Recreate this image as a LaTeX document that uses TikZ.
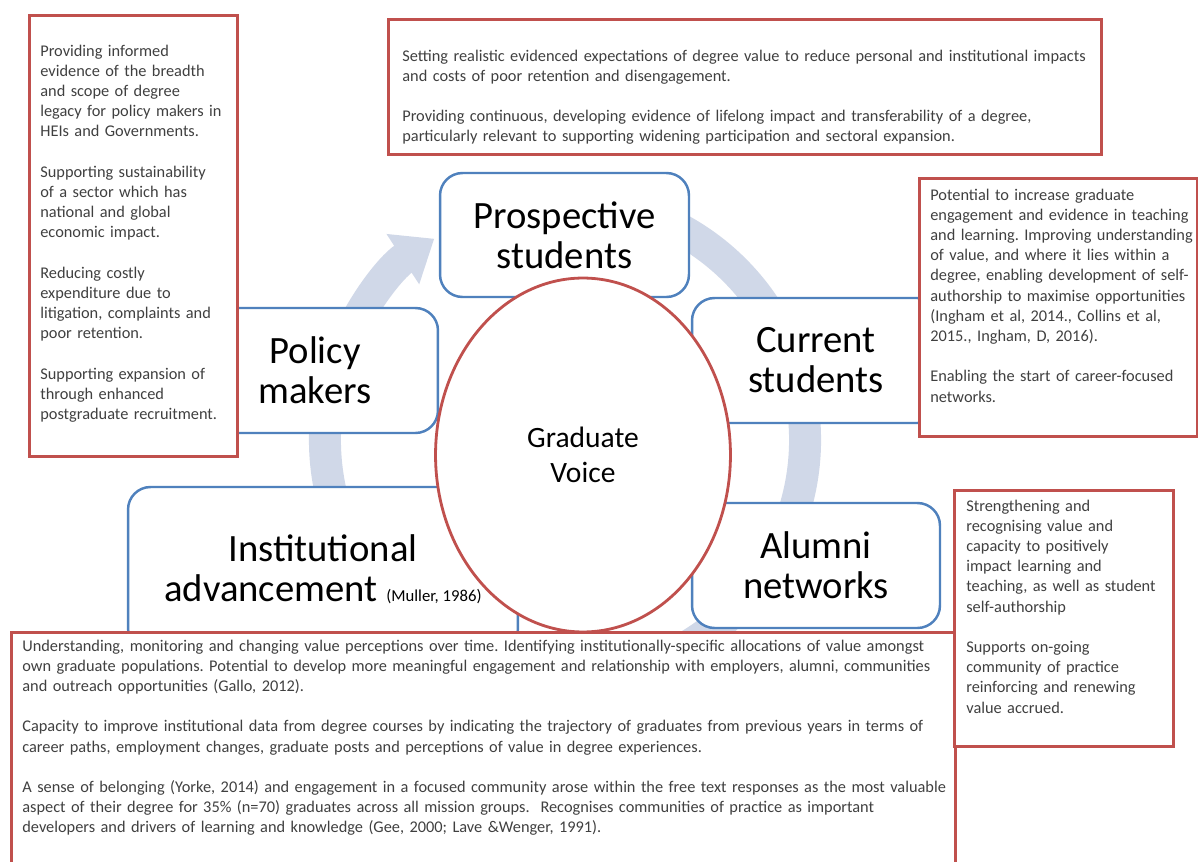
\documentclass[tikz,border=0pt]{standalone}
\usepackage{fontspec}
\setmainfont{Carlito}
\frenchspacing
\usetikzlibrary{shapes.geometric,arrows.meta}

\definecolor{stageblue}{RGB}{79,129,189}
\definecolor{notered}{RGB}{192,80,77}
\definecolor{ringgray}{RGB}{208,216,232}
\definecolor{notegray}{RGB}{64,64,64}

\tikzset{
  stage/.style={draw=stageblue, line width=1.4pt, rounded corners=0.45cm, fill=white,
    align=center, font=\fontsize{22}{22.7}\selectfont},
  note/.style={draw=notered, line width=1.6pt, fill=white, anchor=north west},
  notetext/.style={anchor=base west, inner sep=0pt, align=left, text=notegray,
    font=\fontsize{9.3}{11.5}\selectfont},
  ring/.style={draw=ringgray, line width=0.64cm, -{Triangle[width=1.15cm,length=0.75cm]}},
}

\begin{document}
\begin{tikzpicture}[x=0.02cm, y=-0.02cm]

% Marco
\useasboundingbox (0,0) rectangle (1198,862);
\fill[white] (0,0) rectangle (1198,862);
\clip (0,0) rectangle (1198,862);

% Anillo
\coordinate (ringc) at (565,440);
\draw[ring] (ringc) ++(-70:240) arc[start angle=-70, end angle=237, radius=240];

% Etapas
\node[stage, minimum width=4.98cm, minimum height=2.48cm] (prospect) at (564.5,235) {Prospective\\students};
\node[stage, minimum width=4.92cm, minimum height=2.5cm] (policy) at (315,370.5) {Policy\\makers};
\node[stage, minimum width=4.96cm, minimum height=2.5cm] (current) at (816,360.5) {Current\\students};
\node[stage, minimum width=4.96cm, minimum height=2.5cm] (alumni) at (816,565.5) {Alumni\\networks};
\node[stage, minimum width=7.8cm, minimum height=3.28cm] (institute) at (323,569)
  {Institutional\\advancement {\fontsize{9.5}{11}\selectfont (Muller, 1986)}};

% Voz del graduado
\node[ellipse, draw=notered, line width=1.6pt, fill=white, inner sep=0pt,
  minimum width=5.9cm, minimum height=7.08cm, align=center,
  font=\fontsize{16.8}{19.8}\selectfont] (voice) at (583,455) {Graduate\\Voice};

% Notas
\node[note, minimum width=4.16cm, minimum height=8.82cm] (policynote) at (28,14) {};
\node[notetext, text width=5cm] (policytext) at (40,56)
  {Providing informed\\evidence of the breadth\\and scope of degree\\legacy for policy makers in\\HEIs and Governments.\\[\baselineskip]
   Supporting sustainability\\of a sector which has\\national and global\\economic impact.\\[\baselineskip]
   Reducing costly\\expenditure due to\\litigation, complaints and\\poor retention.\\[\baselineskip]
   Supporting expansion of\\through enhanced\\postgraduate recruitment.};

\node[note, minimum width=14.26cm, minimum height=2.7cm] (prospectnote) at (387,18) {};
\node[notetext, text width=15cm] (prospecttext) at (402,61)
  {Setting realistic evidenced expectations of degree value to reduce personal and institutional impacts\\
   and costs of poor retention and disengagement.\\[\baselineskip]
   Providing continuous, developing evidence of lifelong impact and transferability of a degree,\\
   particularly relevant to supporting widening participation and sectoral expansion.};

\node[note, minimum width=5.56cm, minimum height=5.16cm] (currentnote) at (918,177) {};
\node[notetext, text width=6cm] (currenttext) at (930,200)
  {Potential to increase graduate\\engagement and evidence in teaching\\and learning. Improving understanding\\of value, and where it lies within a\\degree, enabling development of self-\\authorship to maximise opportunities\\(Ingham et al, 2014., Collins et al,\\2015., Ingham, D, 2016).\\[\baselineskip]
   Enabling the start of career-focused\\networks.};

\node[note, minimum width=18.88cm, minimum height=5cm] (institutenote) at (10,631) {};
\node[notetext, text width=19.5cm] (institutetext) at (22,651)
  {Understanding, monitoring and changing value perceptions over time. Identifying institutionally-specific allocations of value amongst\\
   own graduate populations. Potential to develop more meaningful engagement and relationship with employers, alumni, communities\\
   and outreach opportunities (Gallo, 2012).\\[\baselineskip]
   Capacity to improve institutional data from degree courses by indicating the trajectory of graduates from previous years in terms of\\
   career paths, employment changes, graduate posts and perceptions of value in degree experiences.\\[\baselineskip]
   A sense of belonging (Yorke, 2014) and engagement in a focused community arose within the free text responses as the most valuable\\
   aspect of their degree for 35\% (n=70) graduates across all mission groups.\ \ Recognises communities of practice as important\\
   developers and drivers of learning and knowledge (Gee, 2000; Lave \&Wenger, 1991).};

\node[note, minimum width=4.38cm, minimum height=5.12cm] (alumninote) at (953,489) {};
\node[notetext, text width=5cm] (alumnitext) at (966,511)
  {Strengthening and\\recognising value and\\capacity to positively\\impact learning and\\teaching, as well as student\\self-authorship\\[\baselineskip]
   Supports on-going\\community of practice\\reinforcing and renewing\\value accrued.};

\end{tikzpicture}
\end{document}
